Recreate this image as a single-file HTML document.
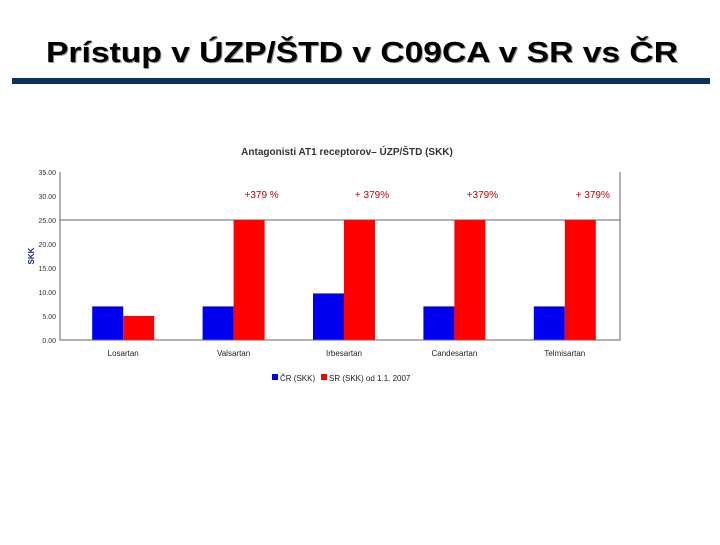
<!DOCTYPE html>
<html><head><meta charset="utf-8"><style>
body{margin:0;background:#fff;width:720px;height:540px;overflow:hidden;font-family:"Liberation Sans",sans-serif}
</style></head><body>
<svg width="720" height="540">
<text x="363" y="63" text-anchor="middle" font-size="29" font-weight="bold" font-family="Liberation Sans, sans-serif" fill="#999" textLength="632" lengthAdjust="spacingAndGlyphs">Prístup v ÚZP/ŠTD v C09CA v SR vs ČR</text>
<text x="362" y="62" text-anchor="middle" font-size="29" font-weight="bold" font-family="Liberation Sans, sans-serif" textLength="632" lengthAdjust="spacingAndGlyphs">Prístup v ÚZP/ŠTD v C09CA v SR vs ČR</text>
<rect x="12" y="78" width="698" height="6" fill="#0b3160"/>
<text x="347" y="155" text-anchor="middle" font-size="10" font-weight="bold" fill="#333">Antagonisti AT1 receptorov– ÚZP/ŠTD  (SKK)</text>
<text transform="translate(34,256) rotate(-90)" text-anchor="middle" font-size="8" font-weight="bold" fill="#1a2a80">SKK</text>
<g id="chart"></g>
<rect x="272" y="374" width="6" height="6" fill="#0000ee"/>
<text x="280" y="381" font-size="8" fill="#222">ČR (SKK)</text>
<rect x="321" y="374" width="6" height="6" fill="#ff0000"/>
<text x="329" y="381" font-size="8" fill="#222">SR (SKK) od 1.1. 2007</text>
</svg>
<script>
const categories=["Losartan","Valsartan","Irbesartan","Candesartan","Telmisartan"];
const crValues=[7.0,7.0,9.7,7.0,7.0];
const srValues=[5.0,25.0,25.0,25.0,25.0];
const annotations=["","+379 %","+ 379%","+379%","+ 379%"];
const yTicks=[0,5,10,15,20,25,30,35];
const NS="http://www.w3.org/2000/svg";
const g=document.getElementById('chart');
const x0=60,x1=620,y0=340,y1=172,yMax=35,bandStart=68;
const y=v=>y0-(v/yMax)*(y0-y1);
const band=(x1-bandStart)/categories.length;
const bw=31;
function mk(t,a,parent){const e=document.createElementNS(NS,t);for(const k in a)e.setAttribute(k,a[k]);(parent||g).appendChild(e);return e;}
yTicks.forEach(t=>{
 const tx=mk('text',{x:x0-4,y:y(t)+3,'text-anchor':'end','font-size':'7',fill:'#333'});
 
 
 tx.textContent=t.toFixed(2);
});
const gl=mk('line',{x1:x0,x2:x1,y1:y(25),y2:y(25),stroke:'#666','stroke-width':1});


categories.forEach((c,i)=>{
 const cx=bandStart+band*(i+0.5);
 const b1=mk('rect',{x:cx-bw,y:y(crValues[i]),width:bw,height:y0-y(crValues[i]),fill:'#0000ee'});
 
 
 const b2=mk('rect',{x:cx,y:y(srValues[i]),width:bw,height:y0-y(srValues[i]),fill:'#ff0000'});
 
 
 const lb=mk('text',{x:cx,y:356,'text-anchor':'middle','font-size':'8',fill:'#222'});
 
 
 lb.textContent=c;
 if(annotations[i]){
  const an=mk('text',{x:cx+28,y:198,'text-anchor':'middle','font-size':'10',fill:'#cc0000'});
  
  
  an.textContent=annotations[i];
 }
});
const ax=mk('path',{d:`M${x0},${y1} V${y0} H${x1} V${y1}`,fill:'none',stroke:'#666','stroke-width':1});


</script>
</body></html>
